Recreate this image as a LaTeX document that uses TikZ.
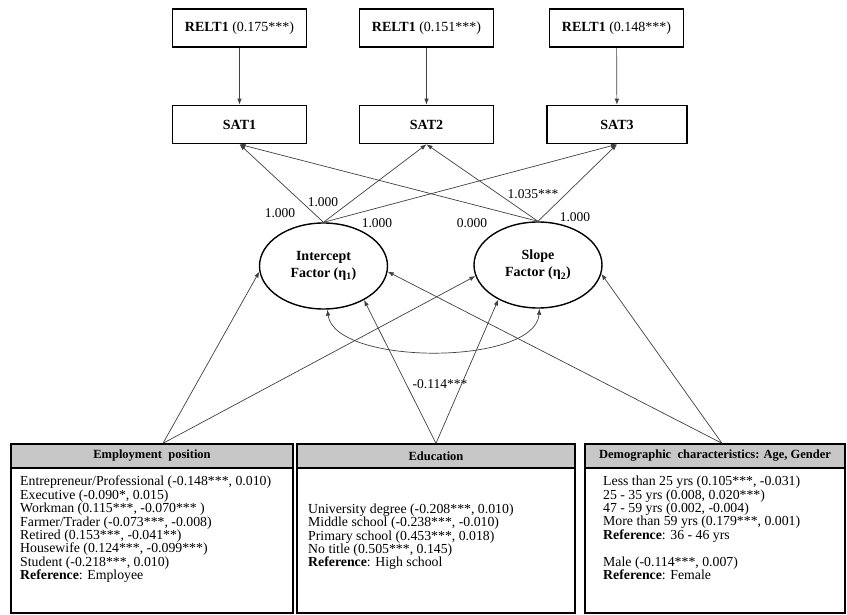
\documentclass[tikz,border=0pt]{standalone}
\usepackage{fontspec}
\setmainfont{Liberation Serif}
\usetikzlibrary{shapes.geometric,arrows.meta}

\begin{document}
\begin{tikzpicture}[x=1pt, y=-1pt, >={Latex[length=6pt,width=4.5pt]},
    box/.style={draw, line width=1.6pt, minimum width=134pt, minimum height=38pt,
      inner sep=0pt, font=\fontsize{14}{16}\selectfont},
    factor/.style={draw, ellipse, line width=1.4pt, minimum width=128pt,
      minimum height=86pt, inner sep=0pt, align=center,
      font=\fontsize{14}{17}\selectfont\bfseries},
    link/.style={->, draw=black!75, line width=0.7pt},
    coef/.style={inner sep=0pt, font=\fontsize{13.5}{15}\selectfont},
    panel/.style={draw, line width=1.4pt, minimum height=169pt, inner sep=0pt},
    head/.style={draw, fill=black!22, line width=1.4pt, minimum height=24pt,
      inner sep=0pt, font=\fontsize{12.5}{14}\selectfont\bfseries},
    items/.style={anchor=north west, align=left, inner sep=0pt,
      font=\fontsize{13.8}{13.4}\selectfont}]

  \useasboundingbox (0,0) rectangle (847,615);

  % Betrouwbaarheid
  \node[box] (relt1) at (239.5,28) {\textbf{RELT1} (0.175***)};
  \node[box] (relt2) at (426.5,28) {\textbf{RELT1} (0.151***)};
  \node[box] (relt3) at (616.5,28) {\textbf{RELT1} (0.148***)};

  % Tevredenheid
  \node[box] (sat1) at (239.5,124.5) {\textbf{SAT1}};
  \node[box] (sat2) at (426.5,124.5) {\textbf{SAT2}};
  \node[box, minimum width=140pt] (sat3) at (617,124.5) {\textbf{SAT3}};

  \draw[link] (relt1) -- (sat1);
  \draw[link] (relt2) -- (sat2);
  \draw[link] (relt3) -- (sat3);

  % Latente factoren
  \node[factor] (int) at (323.5,266) {Intercept\\Factor (η\textsubscript{1})};
  \node[factor] (slope) at (538,265) {Slope\\Factor (η\textsubscript{2})};

  % Ladingen
  \draw[link] (int.north) -- (sat1.south);
  \draw[link] (int.north) -- (sat2.south);
  \draw[link] (int.north) -- (sat3.south);
  \draw[link] (slope.north) -- (sat1.south);
  \draw[link] (slope.north) -- (sat2.south);
  \draw[link] (slope.north) -- (sat3.south);

  \node[coef] (l1) at (280,213) {1.000};
  \node[coef] (l2) at (323,202) {1.000};
  \node[coef] (l3) at (377,223) {1.000};
  \node[coef] (l4) at (472,223) {0.000};
  \node[coef] (l5) at (533,194) {1.035***};
  \node[coef] (l6) at (575,217) {1.000};

  % Covariantie
  \draw[link, <->] (int.-85) .. controls (335,366) and (535,366) .. (slope.-88);
  \node[coef] (cov) at (440,384) {-0.114***};

  % Beroep
  \node[panel, minimum width=282pt] (empbox) at (152,528.5) {};
  \node[head, minimum width=282pt] (emp) at (152,456) {Employment~ position};
  \node[items] (emptxt) at (20,476) {Entrepreneur/Professional (-0.148***, 0.010)\\
    Executive (-0.090*, 0.015)\\
    Workman (0.115***, -0.070*** )\\
    Farmer/Trader (-0.073***, -0.008)\\
    Retired (0.153***, -0.041**)\\
    Housewife (0.124***, -0.099***)\\
    Student (-0.218***, 0.010)\\
    \textbf{Reference}: Employee};

  % Opleiding
  \node[panel, minimum width=278pt] (edubox) at (436,528.5) {};
  \node[head, minimum width=278pt] (edu) at (436,456) {Education};
  \node[items] (edutxt) at (308,503.5) {University degree (-0.208***, 0.010)\\
    Middle school (-0.238***, -0.010)\\
    Primary school (0.453***, 0.018)\\
    No title (0.505***, 0.145)\\
    \textbf{Reference}: High school};

  % Leeftijd en geslacht
  \node[panel, minimum width=260pt] (dembox) at (715,528.5) {};
  \node[head, minimum width=260pt] (dem) at (715,456) {Demographic~ characteristics: Age, Gender};
  \node[items] (demtxt) at (603,476) {Less than 25 yrs (0.105***, -0.031)\\
    25 - 35 yrs (0.008, 0.020***)\\
    47 - 59 yrs (0.002, -0.004)\\
    More than 59 yrs (0.179***, 0.001)\\
    \textbf{Reference}: 36 - 46 yrs\\[13.4pt]
    Male (-0.114***, 0.007)\\
    \textbf{Reference}: Female};

  % Effecten van de covariaten
  \draw[link] ([xshift=11pt]emp.north) -- (int.185);
  \draw[link] ([xshift=11pt]emp.north) -- (slope.190);
  \draw[link] (edu.north) -- (int.-40);
  \draw[link] (edu.north) -- (slope.221);
  \draw[link] ([xshift=7pt]dem.north) -- (int.-5);
  \draw[link] ([xshift=7pt]dem.north) -- (slope.-8);

\end{tikzpicture}
\end{document}
